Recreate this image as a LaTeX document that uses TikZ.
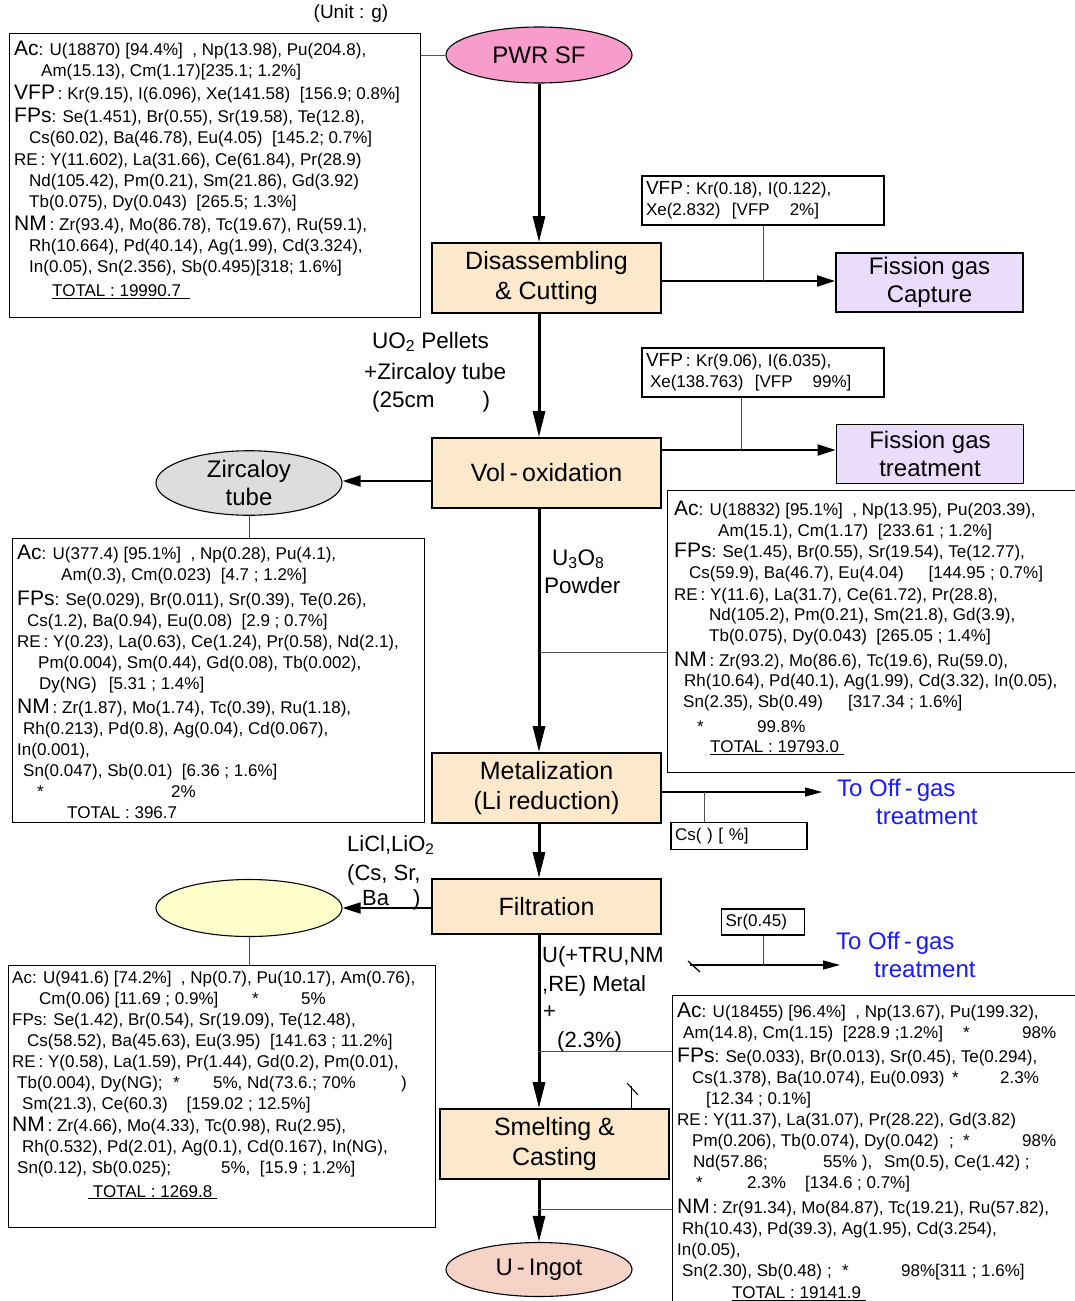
\documentclass[tikz,border=0pt]{standalone}
\usepackage{fontspec}
\setmainfont{Liberation Sans}
\usetikzlibrary{arrows.meta,shapes.geometric,calc}
\definecolor{procC}{HTML}{FCE9CC}
\definecolor{gasC}{HTML}{EADDFB}
\definecolor{pwrC}{HTML}{F89CCB}
\definecolor{zirC}{HTML}{DDDDDD}
\definecolor{yelC}{HTML}{FFFFCC}
\definecolor{ingC}{HTML}{F6D3C7}
\definecolor{blueC}{HTML}{1A1AFF}
\definecolor{thinC}{HTML}{505050}
\newcommand{\bl}[1]{{\fontsize{21}{21}\selectfont #1}}
\newcommand{\sbl}[1]{{\fontsize{19}{19}\selectfont #1}}
\newcommand{\ind}[1]{\hspace*{#1pt}}
\newcommand{\seg}[2]{\makebox[0pt][l]{\hspace*{#1pt}#2}}
\begin{document}
\begin{tikzpicture}[x=1pt,y=-1pt,
  proc/.style={draw, line width=1.8pt, fill=procC, minimum width=229pt, minimum height=70pt, inner sep=0pt, align=center, font=\fontsize{25}{30.5}\selectfont},
  gasbox/.style={draw, line width=1.8pt, fill=gasC, minimum width=187pt, minimum height=59pt, inner sep=0pt, align=center, font=\fontsize{24}{28}\selectfont},
  ell/.style={ellipse, draw, line width=1.1pt, minimum width=186pt, minimum height=56pt, inner sep=0pt, align=center, font=\fontsize{24}{28}\selectfont},
  infobox/.style={draw, line width=1.1pt, anchor=north west, inner sep=0pt},
  infotxt/.style={anchor=north west, inner sep=0pt, align=left, font=\fontsize{17}{21}\selectfont},
  smallbox/.style={draw, line width=1.1pt, inner xsep=4pt, inner ysep=0pt, align=left, font=\fontsize{17}{21}\selectfont},
  lbl/.style={anchor=base west, inner sep=0pt, font=\fontsize{22.5}{27}\selectfont},
  bluetxt/.style={anchor=base west, inner sep=0pt, text=blueC, font=\fontsize{24}{28}\selectfont},
  marr/.style={line width=3pt, -{Triangle[length=26pt,width=12pt]}},
  sarr/.style={line width=2pt, -{Triangle[length=18pt,width=11pt]}},
  oarr/.style={line width=1.3pt, -{Triangle[length=17pt,width=9pt]}},
  thinl/.style={line width=0.9pt, draw=thinC}
]
\fill[white] (0,0) rectangle (1075,1301);
\useasboundingbox (0,0) rectangle (1075,1301);

% ---------- title
\node[anchor=base, inner sep=0pt, font=\fontsize{19}{21}\selectfont] (unit) at (351,18) {(Unit : g)};

% ---------- main nodes
\node[ell, fill=pwrC] (pwr) at (539,55) {PWR SF};
\node[proc] (dis) at (546.5,278) {Disassembling\\\& Cutting};
\node[gasbox] (fgc) at (929.5,282.5) {Fission gas\\Capture};
\node[proc] (vol) at (546.5,473) {Vol\,-\,oxidation};
\node[gasbox] (fgt) at (930,454) {Fission gas\\treatment};
\node[ell, fill=zirC] (zirc) at (249,483) {Zircaloy\\tube};
\node[proc] (met) at (546.5,788) {Metalization\\(Li reduction)};
\node[proc, minimum height=55pt] (filt) at (546.5,906.5) {Filtration};
\node[ell, fill=yelC, minimum height=57pt] (yel) at (249,908) {};
\node[proc] (smelt) at (554.5,1144) {Smelting \&\\Casting};
\node[ell, fill=ingC, minimum height=54pt] (ingot) at (539,1269.5) {U\,-\,Ingot};

% ---------- small boxes
\node[smallbox, minimum width=242pt, minimum height=49pt, text width=234pt] (vfp1) at (763,200.5)
  {\sbl{VFP}\,: Kr(0.18), I(0.122),\\Xe(2.832)\ \ [VFP\hspace{20pt}2\%]};
\node[smallbox, minimum width=242pt, minimum height=49pt, text width=234pt] (vfp2) at (763,372.5)
  {\sbl{VFP}\,: Kr(9.06), I(6.035),\\\ind{4}Xe(138.763)\ \ [VFP\hspace{20pt}99\%]};
\node[smallbox, minimum width=136pt, minimum height=27pt, text width=128pt] (csbox) at (739,836) {Cs( ) [ \%]};
\node[smallbox, minimum width=83pt, minimum height=26pt, text width=75pt] (srbox) at (763,922) {Sr(0.45)};

% ---------- information boxes
\node[infobox, minimum width=411pt, minimum height=284pt] (tlbox) at (9,33) {};
\node[infotxt] (tltext) at (14,41) {%
\bl{Ac}: U(18870) [94.4\%]\ \ , Np(13.98), Pu(204.8),\\
\ind{27}Am(15.13), Cm(1.17)[235.1; 1.2\%]\\[2.3pt]
\bl{VFP}\,: Kr(9.15), I(6.096), Xe(141.58)\ \ [156.9; 0.8\%]\\[2pt]
\bl{FPs}: Se(1.451), Br(0.55), Sr(19.58), Te(12.8),\\
\ind{15}Cs(60.02), Ba(46.78), Eu(4.05)\ \ [145.2; 0.7\%]\\[1pt]
RE\,: Y(11.602), La(31.66), Ce(61.84), Pr(28.9)\\
\ind{15}Nd(105.42), Pm(0.21), Sm(21.86), Gd(3.92)\\
\ind{15}Tb(0.075), Dy(0.043)\ \ [265.5; 1.3\%]\\[2pt]
\bl{NM}\,: Zr(93.4), Mo(86.78), Tc(19.67), Ru(59.1),\\
\ind{15}Rh(10.664), Pd(40.14), Ag(1.99), Cd(3.324),\\
\ind{15}In(0.05), Sn(2.356), Sb(0.495)[318; 1.6\%]\\[3pt]
\ind{38}\underline{TOTAL : 19990.7\ \ }};

\node[infobox, minimum width=412pt, minimum height=284pt] (zbox) at (12,538) {};
\node[infotxt] (ztext) at (17,545) {%
\bl{Ac}: U(377.4) [95.1\%]\ \ , Np(0.28), Pu(4.1),\\
\ind{44}Am(0.3), Cm(0.023)\ \ [4.7 ; 1.2\%]\\[4pt]
\bl{FPs}: Se(0.029), Br(0.011), Sr(0.39), Te(0.26),\\
\ind{10}Cs(1.2), Ba(0.94), Eu(0.08)\ \ [2.9 ; 0.7\%]\\
RE\,: Y(0.23), La(0.63), Ce(1.24), Pr(0.58), Nd(2.1),\\
\ind{21}Pm(0.004), Sm(0.44), Gd(0.08), Tb(0.002),\\
\ind{22}Dy(NG)\hspace{12pt}[5.31 ; 1.4\%]\\[2.7pt]
\bl{NM}\,: Zr(1.87), Mo(1.74), Tc(0.39), Ru(1.18),\\
\ind{6}Rh(0.213), Pd(0.8), Ag(0.04), Cd(0.067),\\
In(0.001),\\
\ind{6}Sn(0.047), Sb(0.01)\ \ [6.36 ; 1.6\%]\\
\seg{20}{*}\seg{154}{2\%}\\
\ind{50}TOTAL : 396.7};

\node[infobox, minimum width=420pt, minimum height=282pt] (rb1) at (667,490) {};
\node[infotxt, font=\fontsize{17}{20.5}\selectfont] (rb1text) at (674,501) {%
\bl{Ac}: U(18832) [95.1\%]\ \ , Np(13.95), Pu(203.39),\\
\ind{44}Am(15.1), Cm(1.17)\ \ [233.61 ; 1.2\%]\\[1pt]
\bl{FPs}: Se(1.45), Br(0.55), Sr(19.54), Te(12.77),\\
\ind{15}Cs(59.9), Ba(46.7), Eu(4.04)\hspace{25pt}[144.95 ; 0.7\%]\\[1.5pt]
RE\,: Y(11.6), La(31.7), Ce(61.72), Pr(28.8),\\
\ind{35}Nd(105.2), Pm(0.21), Sm(21.8), Gd(3.9),\\
\ind{35}Tb(0.075), Dy(0.043)\ \ [265.05 ; 1.4\%]\\[4.5pt]
\bl{NM}\,: Zr(93.2), Mo(86.6), Tc(19.6), Ru(59.0),\\
\ind{10}Rh(10.64), Pd(40.1), Ag(1.99), Cd(3.32), In(0.05),\\
\ind{9}Sn(2.35), Sb(0.49)\hspace{25pt}[317.34 ; 1.6\%]\\[4.5pt]
\seg{23}{*}\seg{83}{99.8\%}\\
\ind{36}\underline{TOTAL : 19793.0\ }};

\node[infobox, minimum width=427pt, minimum height=262pt] (lbbox) at (8,965) {};
\node[infotxt] (lbtext) at (12,970.6) {%
Ac: U(941.6) [74.2\%]\ \ , Np(0.7), Pu(10.17), Am(0.76),\\
\seg{27}{Cm(0.06) [11.69 ; 0.9\%]}\seg{240}{*}\seg{289}{5\%}\\
FPs: Se(1.42), Br(0.54), Sr(19.09), Te(12.48),\\
\ind{15}Cs(58.52), Ba(45.63), Eu(3.95)\ \ [141.63 ; 11.2\%]\\
RE\,: Y(0.58), La(1.59), Pr(1.44), Gd(0.2), Pm(0.01),\\
\seg{5}{Tb(0.004), Dy(NG);}\seg{161}{*}\seg{201}{5\%, Nd(73.6.; 70\%}\seg{389}{)}\\
\ind{10}Sm(21.3), Ce(60.3)\hspace{19pt}[159.02 ; 12.5\%]\\[1pt]
\bl{NM}\,: Zr(4.66), Mo(4.33), Tc(0.98), Ru(2.95),\\
\ind{10}Rh(0.532), Pd(2.01), Ag(0.1), Cd(0.167), In(NG),\\
\seg{5}{Sn(0.12), Sb(0.025);}\seg{209}{5\%,\ \ [15.9 ; 1.2\%]}\\[3pt]
\ind{76}\underline{\ TOTAL : 1269.8\ }};

\node[infobox, minimum width=420pt, minimum height=320pt] (rb2) at (672,995) {};
\node[infotxt] (rb2text) at (677,1003) {%
\bl{Ac}: U(18455) [96.4\%]\ \ , Np(13.67), Pu(199.32),\\
\seg{6}{Am(14.8), Cm(1.15)\ \ [228.9 ;1.2\%]}\seg{286}{*}\seg{345}{98\%}\\[3pt]
\bl{FPs}: Se(0.033), Br(0.013), Sr(0.45), Te(0.294),\\
\seg{15}{Cs(1.378), Ba(10.074), Eu(0.093)}\seg{275}{*}\seg{323}{2.3\%}\\
\seg{29}{[12.34 ; 0.1\%]}\\
RE\,: Y(11.37), La(31.07), Pr(28.22), Gd(3.82)\\
\seg{15}{Pm(0.206), Tb(0.074), Dy(0.042)}\seg{272}{;}\seg{286}{*}\seg{345}{98\%}\\
\seg{16}{Nd(57.86;}\seg{146}{55\% ),}\seg{207}{Sm(0.5), Ce(1.42) ;}\\
\seg{19}{*}\seg{70}{2.3\%}\seg{128}{[134.6 ; 0.7\%]}\\[4pt]
\bl{NM}\,: Zr(91.34), Mo(84.87), Tc(19.21), Ru(57.82),\\
\ind{5}Rh(10.43), Pd(39.3), Ag(1.95), Cd(3.254),\\
In(0.05),\\
\seg{5}{Sn(2.30), Sb(0.48)}\seg{150}{;}\seg{165}{*}\seg{224}{98\%[311 ; 1.6\%]}\\[1pt]
\ind{55}\underline{TOTAL : 19141.9\ }};

% ---------- flow labels
\node[lbl] (uo1) at (372,348) {UO\textsubscript{2} Pellets};
\node[lbl] (uo2) at (364,379) {+Zircaloy tube};
\node[lbl] (uo3) at (372,407) {(25cm\hspace{48pt})};
\node[lbl] (u3o8) at (552,565) {U\textsubscript{3}O\textsubscript{8}};
\node[lbl] (pow) at (544,593) {Powder};
\node[lbl, font=\fontsize{22}{26}\selectfont] (li1) at (347,851) {LiCl,LiO\textsubscript{2}};
\node[lbl, font=\fontsize{22}{26}\selectfont] (li2) at (347,880) {(Cs, Sr,};
\node[lbl, font=\fontsize{22}{26}\selectfont] (li3) at (362,905) {Ba\hspace{24pt})};
\node[lbl, font=\fontsize{22}{26}\selectfont] (um1) at (542,962) {U(+TRU,NM};
\node[lbl, font=\fontsize{22}{26}\selectfont] (um2) at (542,991) {,RE) Metal};
\node[lbl, font=\fontsize{22}{26}\selectfont] (um3) at (543,1018) {+};
\node[lbl, font=\fontsize{22}{26}\selectfont] (um4) at (557,1047) {(2.3\%)};
\node[bluetxt] (og1a) at (837,796) {To Off\,-\,gas};
\node[bluetxt] (og1b) at (876,824) {treatment};
\node[bluetxt] (og2a) at (836,949) {To Off\,-\,gas};
\node[bluetxt] (og2b) at (874,977) {treatment};

% ---------- main vertical arrows
\draw[marr] (pwr.south) -- (pwr.south |- dis.north);
\draw[marr] (dis.south -| pwr.south) -- (vol.north -| pwr.south);
\draw[marr] (vol.south -| pwr.south) -- (met.north -| pwr.south);
\draw[marr] (met.south -| pwr.south) -- (filt.north -| pwr.south);
\draw[marr] (filt.south -| pwr.south) -- (smelt.north -| pwr.south);
\draw[marr] (smelt.south -| pwr.south) -- (ingot.north);

% ---------- side arrows
\coordinate (a1) at (0,281);
\coordinate (a2) at (0,450);
\coordinate (a3) at (0,481);
\draw[sarr] (dis.east |- a1) -- (fgc.west |- a1);
\draw[sarr] (vol.east |- a2) -- (fgt.west |- a2);
\draw[sarr] (vol.west |- a3) -- (zirc.east |- a3);
\draw[sarr] (filt.west |- yel.east) -- (yel.east);

% ---------- thin connectors
\draw[thinl] (vfp1.south) -- (vfp1.south |- a1);
\coordinate (v2) at (741,0);
\draw[thinl] (vfp2.south -| v2) -- (v2 |- a2);
\draw[thinl] (pwr.west) -- (pwr.west -| tlbox.east);
\draw[thinl] (zirc.south) -- (zirc.south |- zbox.north);
\draw[thinl] (yel.south) -- (yel.south |- lbbox.north);
\coordinate (j1) at (540,652);
\draw[thinl] (j1) -- (j1 -| rb1.west);
\coordinate (j2) at (538,1051);
\draw[thinl] (j2) -- (j2 -| rb2.west);
\coordinate (j3) at (538,1209);
\draw[thinl] (j3) -- (j3 -| rb2.west);

% ---------- off-gas arrows
\coordinate (og1tip) at (822,792);
\draw[oarr] (met.east |- og1tip) -- (og1tip);
\coordinate (csj) at (704,792);
\draw[thinl] (csj) -- (csj |- csbox.north);
\coordinate (og2s) at (690,965);
\coordinate (og2tip) at (840,965);
\draw[oarr] (og2s) -- (og2tip);
\draw[thinl] (srbox.south) -- (srbox.south |- og2s);
\coordinate (tk1) at (688,961);
\coordinate (tk2) at (700,972);
\draw[line width=1.3pt] (tk1) -- (tk2);

% ---------- fragment above smelting
\coordinate (fr1) at (631,1086);
\draw[line width=1pt] (fr1 |- smelt.north) -- (fr1);
\coordinate (fr2) at (627,1083);
\coordinate (fr3) at (638,1095);
\draw[line width=1pt] (fr2) -- (fr3);
\end{tikzpicture}
\end{document}
